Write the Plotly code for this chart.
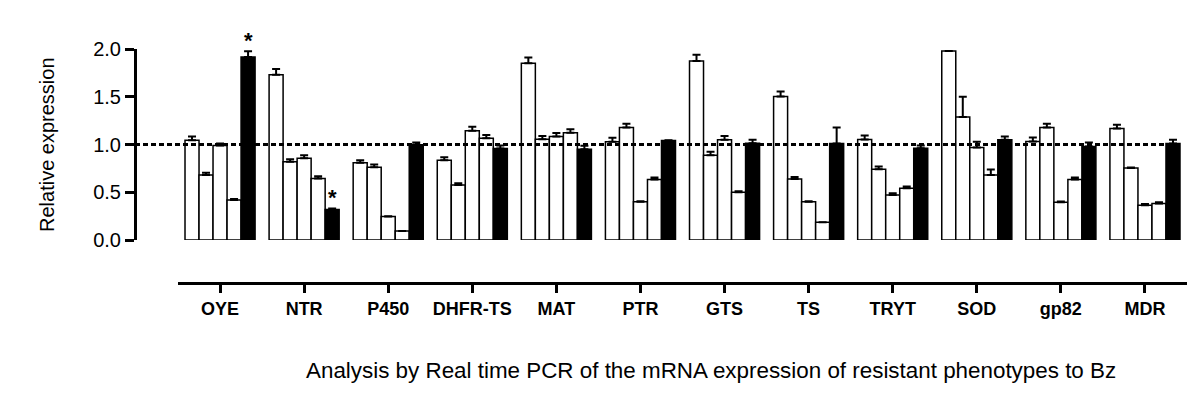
import plotly.graph_objects as go

genes = ["OYE", "NTR", "P450", "DHFR-TS", "MAT", "PTR", "GTS", "TS", "TRYT", "SOD", "gp82", "MDR"]

s1 = [1.045, 1.73, 0.808, 0.836, 1.85, 1.03, 1.874, 1.503, 1.052, 1.98, 1.031, 1.168]
e1 = [0.04, 0.06, 0.028, 0.031, 0.06, 0.04, 0.066, 0.053, 0.042, 0.0, 0.042, 0.038]
s2 = [0.68, 0.82, 0.762, 0.577, 1.056, 1.178, 0.888, 0.64, 0.741, 1.287, 1.178, 0.755]
e2 = [0.025, 0.026, 0.028, 0.017, 0.034, 0.039, 0.035, 0.02, 0.029, 0.213, 0.039, 0.004]
s3 = [0.99, 0.857, 0.245, 1.143, 1.084, 0.40, 1.049, 0.40, 0.472, 0.968, 0.395, 0.364]
e3 = [0.02, 0.031, 0.005, 0.042, 0.036, 0.005, 0.041, 0.005, 0.018, 0.062, 0.007, 0.014]
s4 = [0.42, 0.643, 0.094, 1.066, 1.122, 0.633, 0.50, 0.185, 0.542, 0.68, 0.633, 0.381]
e4 = [0.01, 0.025, 0.0, 0.034, 0.038, 0.021, 0.01, 0.0, 0.018, 0.058, 0.021, 0.014]
s5 = [1.916, 0.32, 0.997, 0.958, 0.951, 1.042, 1.014, 1.01, 0.96, 1.049, 0.979, 1.01]
e5 = [0.06, 0.01, 0.023, 0.032, 0.035, 0.003, 0.036, 0.168, 0.03, 0.035, 0.041, 0.039]

series = [(s1, e1, "white"), (s2, e2, "white"), (s3, e3, "white"), (s4, e4, "white"), (s5, e5, "black")]
star_genes = ["OYE", "NTR"]

FONT = "Liberation Sans, Arial, sans-serif"

fig = go.Figure()
for i, (vals, errs, col) in enumerate(series):
    fig.add_trace(go.Bar(
        x=genes, y=vals, name=f"s{i+1}",
        marker=dict(color=col, line=dict(color="black", width=1.5)),
        error_y=dict(type="data", symmetric=False, array=errs, arrayminus=[0] * len(errs),
                     color="black", thickness=2, width=4),
        showlegend=False,
    ))

# asterisks above black bars
for g in star_genes:
    k = genes.index(g)
    fig.add_annotation(x=k + 2 / 6, y=s5[k] + e5[k], xref="x", yref="y",
                       text="<b>*</b>", showarrow=False, yanchor="bottom", yshift=-4,
                       font=dict(family=FONT, size=22, color="black"))

L, R, T = 127, 1179, 41
B_AX = 275
W, H = 1200, 414
pw = R - L
ph = B_AX - T
xdom0 = (170 - L) / pw
ydom0 = (B_AX - 232) / ph

fig.add_shape(type="line", xref="paper", yref="y", x0=0, x1=(1175 - L) / pw, y0=1, y1=1,
              line=dict(color="black", width=3, dash="5px,3px"), layer="above")

fig.add_annotation(text="Analysis by Real time PCR of the mRNA expression of resistant phenotypes to Bz",
                   xref="paper", yref="paper", x=(703 - L) / pw, y=(B_AX - 362) / ph,
                   showarrow=False, xanchor="center", yanchor="middle",
                   font=dict(family=FONT, size=22.4, color="black"))
fig.add_annotation(text="Relative expression", textangle=-90,
                   xref="paper", yref="paper", x=(39 - L) / pw, y=(B_AX - 137) / ph,
                   showarrow=False, xanchor="center", yanchor="middle",
                   font=dict(family=FONT, size=20, color="black"))

fig.update_layout(
    width=W, height=H,
    margin=dict(l=L, r=W - R, t=T, b=H - B_AX, pad=0),
    paper_bgcolor="white", plot_bgcolor="white",
    barmode="group", bargap=1 / 6, bargroupgap=0,
    xaxis=dict(domain=[xdom0, 1], anchor="free", position=0, type="category",
               range=[-0.5, 11.5], showgrid=False, zeroline=False,
               showline=True, linecolor="black", linewidth=3,
               ticks="outside", ticklen=8, tickwidth=2.5, tickcolor="black",
               tickfont=dict(family=FONT, size=18, color="black", weight="bold")),
    yaxis=dict(domain=[ydom0, 1], anchor="free", position=0, range=[0, 2],
               showgrid=False, zeroline=False,
               showline=True, linecolor="black", linewidth=3,
               ticks="outside", ticklen=9, tickwidth=3, tickcolor="black",
               tickvals=[0, 0.5, 1, 1.5, 2], ticktext=["0.0", "0.5", "1.0", "1.5", "2.0"],
               tickfont=dict(family=FONT, size=20, color="black")),
)

fig.write_html("out.html")
